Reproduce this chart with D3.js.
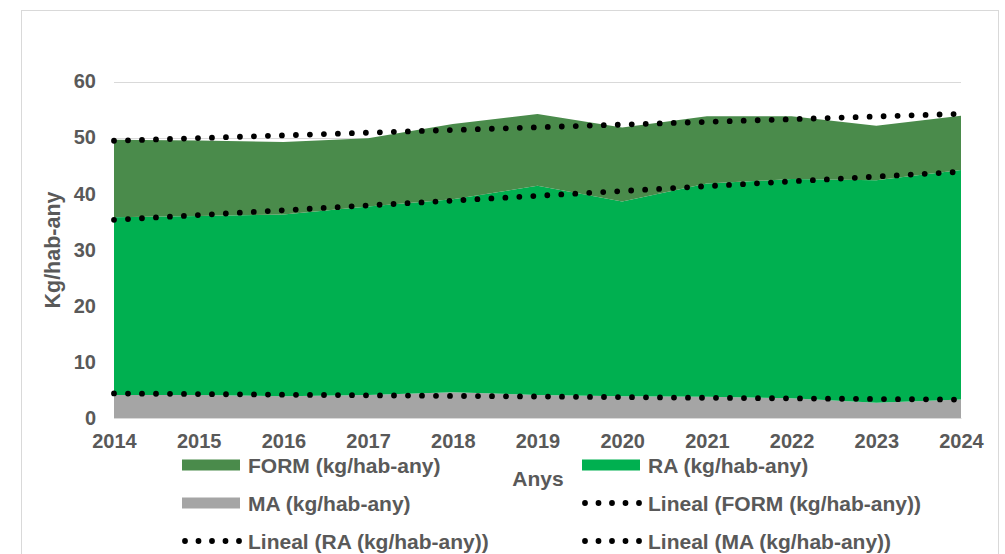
<!DOCTYPE html>
<html>
<head>
<meta charset="utf-8">
<script src="https://cdn.jsdelivr.net/npm/d3@7"></script>
<style>
  body { margin: 0; background: #fff; }
  text { font-family: "Liberation Sans", Arial, sans-serif; font-weight: bold; fill: #595959; }
</style>
</head>
<body>
<svg id="chart"></svg>
<script>
let years = [2014, 2015, 2016, 2017, 2018, 2019, 2020, 2021, 2022, 2023, 2024];
let maValues = [4.1, 4.1, 3.9, 4.1, 4.6, 4.1, 3.9, 3.8, 3.5, 2.7, 3.3];
let raValues = [31.7, 31.9, 32.4, 33.6, 34.4, 37.3, 34.7, 38.0, 39.1, 39.7, 40.9];
let formValues = [13.8, 13.5, 12.9, 12.2, 13.4, 12.8, 13.2, 12.0, 11.2, 9.7, 9.7];
let yTicks = [0, 10, 20, 30, 40, 50, 60];

let width = 1005,
    height = 554;

let colour = {
    MA: '#a5a5a5',
    RA: '#00b050',
    FORM: '#4a8b4b'
};

let rows = years.map((y, i) => ({ year: y, MA: maValues[i], RA: raValues[i], FORM: formValues[i] }));
let keys = ['MA', 'RA', 'FORM'];

let x = d3.scaleLinear().domain([2014, 2024]).range([114, 961]);
let y = d3.scaleLinear().domain([0, 60]).range([418, 81.5]);

let svg = d3.select("#chart")
    .attr("width", width)
    .attr("height", height);

// chart frame
svg.append("rect")
    .attr("x", 21.5).attr("y", 10.5)
    .attr("width", 977).attr("height", 560)
    .attr("fill", "none")
    .attr("stroke", "#d9d9d9");

// gridlines
svg.append("g")
    .selectAll("line")
    .data(yTicks)
    .enter().append("line")
    .attr("x1", x(2014)).attr("x2", x(2024))
    .attr("y1", d => Math.round(y(d)) + 0.5)
    .attr("y2", d => Math.round(y(d)) + 0.5)
    .attr("stroke", "#d9d9d9")
    .attr("stroke-width", 1);

let series = d3.stack().keys(keys)(rows);

let area = d3.area()
    .x(d => x(d.data.year))
    .y0(d => y(d[0]))
    .y1(d => y(d[1]));

svg.append("g")
    .selectAll("path")
    .data(series)
    .enter().append("path")
    .attr("d", area)
    .attr("fill", d => colour[d.key]);

// linear trend lines on the stacked tops
function fit(vals) {
    let n = vals.length;
    let mx = d3.mean(years), my = d3.mean(vals);
    let num = d3.sum(years, (xv, i) => (xv - mx) * (vals[i] - my));
    let den = d3.sum(years, xv => (xv - mx) * (xv - mx));
    let b = num / den;
    return [[years[0], my + b * (years[0] - mx)], [years[n - 1], my + b * (years[n - 1] - mx)]];
}

let line = d3.line().x(d => x(d[0])).y(d => y(d[1]));

series.forEach(s => {
    let tops = s.map(d => d[1]);
    svg.append("path")
        .attr("d", line(fit(tops)))
        .attr("fill", "none")
        .attr("stroke", "#000")
        .attr("stroke-width", 5.8)
        .attr("stroke-linecap", "round")
        .attr("stroke-dasharray", "0 14");
});

// y axis
let yAxis = d3.axisLeft(y).tickValues(yTicks).tickSize(0).tickPadding(18);
let gy = svg.append("g").attr("transform", "translate(" + x(2014) + ",0)").call(yAxis);
gy.select(".domain").remove();
gy.selectAll("text").style("font-size", "20px").attr("fill", "#595959");

// x axis
let xAxis = d3.axisBottom(x).tickValues(years).tickFormat(d3.format("d")).tickSize(0).tickPadding(16);
let gx = svg.append("g").attr("transform", "translate(0," + y(0) + ")").call(xAxis);
gx.select(".domain").attr("stroke", "#d9d9d9");
gx.selectAll("text").style("font-size", "20px").attr("fill", "#595959");

// axis titles
svg.append("text")
    .attr("transform", "translate(60,250) rotate(-90)")
    .attr("text-anchor", "middle")
    .style("font-size", "21.5px")
    .text("Kg/hab-any");

svg.append("text")
    .attr("x", 538).attr("y", 486)
    .attr("text-anchor", "middle")
    .style("font-size", "21px")
    .text("Anys");

// legend
let legendItems = [
    { label: "FORM (kg/hab-any)", type: "area", key: "FORM", col: 0, row: 0 },
    { label: "RA (kg/hab-any)", type: "area", key: "RA", col: 1, row: 0 },
    { label: "MA (kg/hab-any)", type: "area", key: "MA", col: 0, row: 1 },
    { label: "Lineal (FORM (kg/hab-any))", type: "trend", col: 1, row: 1 },
    { label: "Lineal (RA (kg/hab-any))", type: "trend", col: 0, row: 2 },
    { label: "Lineal (MA (kg/hab-any))", type: "trend", col: 1, row: 2 }
];
let colX = [182, 582];
let rowY = [465, 503, 541];

let lg = svg.append("g")
    .selectAll("g")
    .data(legendItems)
    .enter().append("g")
    .attr("transform", d => "translate(" + colX[d.col] + "," + rowY[d.row] + ")");

lg.filter(d => d.type === "area").append("rect")
    .attr("x", 0).attr("y", -5.5)
    .attr("width", 58).attr("height", 11)
    .attr("fill", d => colour[d.key]);

lg.filter(d => d.type === "trend").append("line")
    .attr("x1", 3).attr("x2", 58)
    .attr("y1", 0).attr("y2", 0)
    .attr("stroke", "#000")
    .attr("stroke-width", 5.8)
    .attr("stroke-linecap", "round")
    .attr("stroke-dasharray", "0 13.5");

lg.append("text")
    .attr("x", 66).attr("y", 7.5)
    .style("font-size", "21px")
    .text(d => d.label);
</script>
</body>
</html>
